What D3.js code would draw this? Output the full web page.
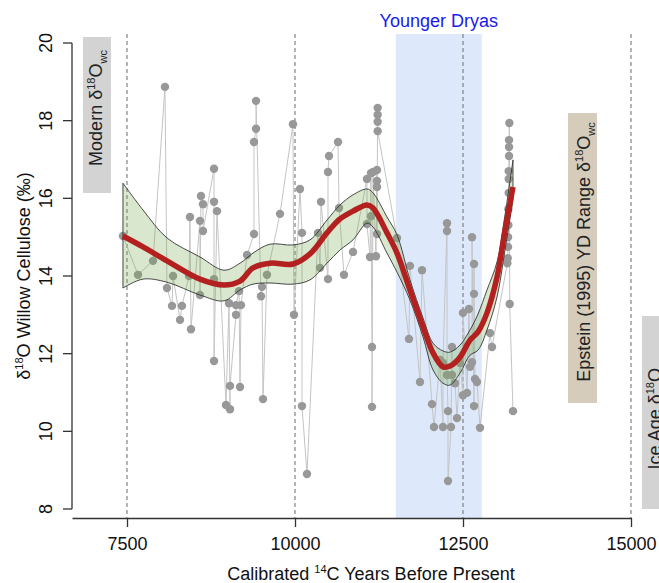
<!DOCTYPE html>
<html><head><meta charset="utf-8">
<script src="https://cdn.jsdelivr.net/npm/d3@7"></script>
<style>
html,body{margin:0;padding:0;background:#fff;}
svg{display:block;font-family:"Liberation Sans",Arial,Helvetica,sans-serif;}
</style></head>
<body><svg id="chart" width="659" height="583"></svg>
<script>
// ---- data ----
const sampleYears = [7440,7664,7887,8065,8095,8170,8185,8289,8318,8423,8437,8452,8586,8586,8601,8631,8631,8795,8795,8795,8795,8839,8973,9018,9033,9033,9122,9122,9167,9182,9196,9286,9390,9390,9420,9420,9494,9509,9524,9583,9777,9970,9985,10074,10104,10104,10179,10342,10372,10387,10491,10491,10506,10640,10655,10729,10863,11071,11071,11116,11131,11131,11146,11146,11161,11205,11220,11220,11220,11220,11230,11230,11230,11230,11518,11696,11711,11860,11890,12039,12068,12158,12202,12202,12262,12262,12262,12277,12277,12321,12336,12336,12381,12411,12455,12500,12500,12560,12589,12604,12634,12634,12664,12664,12664,12679,12708,12753,12902,12932,13160,13165,13170,13170,13175,13175,13180,13180,13180,13185,13185,13185,13190,13195,13244];
const sampleD18O = [15.03,14.03,14.39,18.87,13.69,13.23,14.00,12.87,13.23,14.00,15.52,12.63,15.42,13.51,16.06,15.85,15.16,16.76,15.91,13.92,11.81,15.67,10.68,13.30,10.57,11.17,13.00,13.25,13.61,11.14,13.25,14.54,15.08,17.45,17.79,18.51,13.48,13.72,10.83,14.03,15.60,17.91,13.00,16.24,15.11,10.65,8.90,15.11,14.21,15.91,13.92,16.68,17.09,17.45,15.75,14.03,14.62,16.50,15.34,14.49,16.65,15.54,12.17,10.63,16.68,14.51,16.73,16.45,16.29,15.08,18.33,18.15,17.97,17.73,14.98,12.38,14.26,11.27,14.15,10.70,10.11,11.84,10.11,11.76,15.36,15.16,11.45,10.52,8.72,10.11,12.17,11.45,11.24,10.34,11.76,10.93,13.05,10.99,13.15,11.66,11.78,15.00,10.65,14.31,13.54,11.35,11.27,10.09,12.53,12.17,14.33,14.46,14.75,15.00,15.31,15.72,16.14,16.50,16.70,17.09,17.32,17.50,17.94,13.28,10.52];
const fitYears = [7440,7738,8095,8586,8943,9182,9375,9628,9970,10223,10476,10670,10863,11071,11161,11369,11518,11711,11905,12054,12202,12307,12455,12604,12723,12857,13006,13125,13244];
const fitMid  = [15.03,14.75,14.39,13.92,13.77,13.87,14.21,14.33,14.31,14.57,15.11,15.47,15.67,15.83,15.75,15.11,14.59,13.64,12.69,12.02,11.66,11.68,11.91,12.35,12.56,13.05,13.97,15.18,16.29];
const fitLo   = [13.69,13.92,13.84,13.51,13.36,13.64,13.79,13.82,13.79,13.90,14.33,14.67,14.93,15.36,15.26,14.59,14.10,13.38,12.43,11.58,11.24,11.19,11.50,11.96,12.09,12.61,13.46,14.67,15.96];
const fitHi   = [16.39,15.70,14.98,14.49,14.15,14.33,14.59,14.82,14.80,14.93,15.44,15.83,16.09,16.24,16.14,15.52,15.06,13.90,12.92,12.27,12.07,12.04,12.22,12.61,13.02,13.64,14.36,15.57,16.99];
const xTicks = [7500,10000,12500,15000];
const yTicks = [8,10,12,14,16,18,20];
const youngerDryas = [11500,12780];
const refLines = [7500,10000,12500,15000];

// ---- scales ----
const svg = d3.select("#chart");
const x = d3.scaleLinear().domain([7500,15000]).range([127,631]);
const y = d3.scaleLinear().domain([8,20]).range([509,43]);
const topY = 34, axisY = 518, axisX = 72;

// Younger Dryas band
svg.append("rect").attr("x",x(youngerDryas[0])).attr("y",topY)
  .attr("width",x(youngerDryas[1])-x(youngerDryas[0])).attr("height",axisY-topY)
  .attr("fill","#dde9fa");
svg.append("text").attr("x",(x(youngerDryas[0])+x(youngerDryas[1]))/2).attr("y",27)
  .attr("text-anchor","middle").attr("font-size",18).attr("fill","#1a1aee").text("Younger Dryas");

// dashed reference lines
svg.append("g").selectAll("line").data(refLines).join("line")
  .attr("x1",d=>x(d)).attr("x2",d=>x(d)).attr("y1",topY).attr("y2",axisY)
  .attr("stroke","#777").attr("stroke-width",1.1).attr("stroke-dasharray","4,3");

// label boxes
function boxLabel(x0,y0,w,h,fill,cx,cy,parts){
  svg.append("rect").attr("x",x0).attr("y",y0).attr("width",w).attr("height",h).attr("fill",fill);
  const t = svg.append("text").attr("transform",`translate(${cx},${cy}) rotate(-90)`)
    .attr("text-anchor","middle").attr("font-size",18).attr("fill","#222");
  parts.forEach(p=>{ const s=t.append("tspan").text(p.t);
    if(p.fs) s.attr("font-size",p.fs); if(p.dy) s.attr("dy",p.dy); });
}
const d18Parts = (pre,post)=>[{t:pre},{t:"18",fs:11,dy:-7},{t:"O",dy:7},{t:"wc",fs:11,dy:5},{t:post||"",dy:-5}];
boxLabel(83,37,28,156,"#d3d3d3",102,108,d18Parts("Modern δ"));
boxLabel(568,113,29,290,"#d5ccbb",590,252,d18Parts("Epstein (1995) YD Range δ"));
boxLabel(642,316,40,193,"#d3d3d3",661,412,d18Parts("Ice Age δ"));

// sample connecting line
const samples = sampleYears.map((yr,i)=>({yr,v:sampleD18O[i],i}))
  .sort((a,b)=>a.yr-b.yr || a.i-b.i);
svg.append("path").datum(samples)
  .attr("d",d3.line().x(d=>x(d.yr)).y(d=>y(d.v)))
  .attr("fill","none").attr("stroke","#c4c4c4").attr("stroke-width",1);
svg.append("g").selectAll("circle").data(samples).join("circle")
  .attr("cx",d=>x(d.yr)).attr("cy",d=>y(d.v)).attr("r",4.2).attr("fill","#989898");

// confidence band
const fit = fitYears.map((yr,i)=>({yr,m:fitMid[i],lo:fitLo[i],hi:fitHi[i]}));
const area = d3.area().x(d=>x(d.yr)).y0(d=>y(d.lo)).y1(d=>y(d.hi)).curve(d3.curveCatmullRom);
svg.append("path").datum(fit).attr("d",d=>area(d)+"Z")
  .attr("fill","rgba(110,165,70,0.27)").attr("stroke","#333").attr("stroke-width",0.9);
svg.append("path").datum(fit)
  .attr("d",d3.line().x(d=>x(d.yr)).y(d=>y(d.m)).curve(d3.curveCatmullRom))
  .attr("fill","none").attr("stroke","#b3201f").attr("stroke-width",5.5).attr("stroke-linecap","butt");

// axes
const gy = svg.append("g");
gy.append("line").attr("x1",axisX).attr("x2",axisX).attr("y1",y(20)).attr("y2",y(8)).attr("stroke","#333").attr("stroke-width",1.3);
gy.selectAll(".t").data(yTicks).join("line").attr("x1",axisX-9).attr("x2",axisX)
  .attr("y1",d=>y(d)).attr("y2",d=>y(d)).attr("stroke","#333").attr("stroke-width",1.3);
gy.selectAll("text").data(yTicks).join("text")
  .attr("transform",d=>`translate(52,${y(d)}) rotate(-90)`).attr("text-anchor","middle")
  .attr("font-size",18).attr("fill","#111").text(d=>d);

const xAxisScale = x.copy().domain([x.invert(axisX),15000]).range([axisX,x(15000)]);
const gx = svg.append("g").attr("transform",`translate(0,${axisY})`)
  .call(d3.axisBottom(xAxisScale).tickValues(xTicks).tickSize(9).tickSizeOuter(0).tickPadding(10).tickFormat(d3.format("d")));
gx.select(".domain").attr("stroke","#333").attr("stroke-width",1.3);
gx.selectAll(".tick line").attr("stroke","#333").attr("stroke-width",1.3);
gx.selectAll("text").attr("font-size",18).attr("fill","#111").attr("font-family","Liberation Sans, Arial, sans-serif");

// axis titles
const yl = svg.append("text").attr("transform","translate(30,276) rotate(-90)")
  .attr("text-anchor","middle").attr("font-size",18).attr("fill","#111");
yl.append("tspan").text("δ");
yl.append("tspan").text("18").attr("font-size",11).attr("dy",-7);
yl.append("tspan").text("O Willow Cellulose (‰)").attr("dy",7);

const xl = svg.append("text").attr("x",371).attr("y",580).attr("text-anchor","middle")
  .attr("font-size",18).attr("fill","#111");
xl.append("tspan").text("Calibrated ");
xl.append("tspan").text("14").attr("font-size",11).attr("dy",-7);
xl.append("tspan").text("C Years Before Present").attr("dy",7);
</script></body></html>
